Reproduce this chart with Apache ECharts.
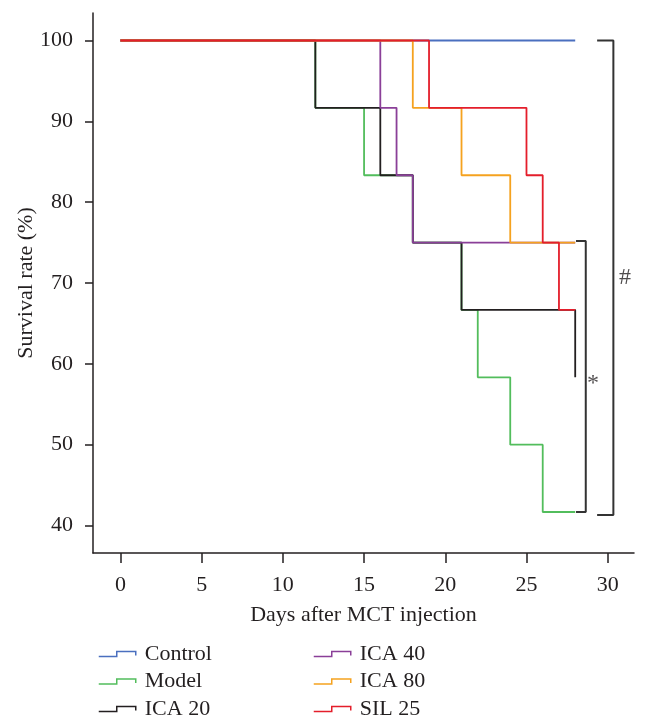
<!DOCTYPE html>
<html>
<head>
<meta charset="utf-8">
<script src="https://cdn.jsdelivr.net/npm/echarts@6/dist/echarts.min.js"></script>
<style>
html,body{margin:0;padding:0;background:#fff;}
#chart{width:648px;height:728px;}
</style>
</head>
<body>
<div id="chart"></div>
<script>
// ---- Data (days, survival rate %) ----
const seriesNames = ['Control', 'Model', 'ICA 20', 'ICA 40', 'ICA 80', 'SIL 25'];
const seriesColors = ['#4a6fbf', '#52bd5c', '#231f20', '#8a3f98', '#f5a21f', '#e41e2b'];

const controlDays = [0, 28];
const controlRate = [100, 100];
const modelDays = [0, 12, 15, 18, 21, 22, 24, 26, 28];
const modelRate = [100, 91.67, 83.33, 75, 66.67, 58.33, 50, 41.67, 41.67];
const ica20Days = [0, 12, 16, 18, 21, 28];
const ica20Rate = [100, 91.67, 83.33, 75, 66.67, 58.33];
const ica40Days = [0, 16, 17, 18, 28];
const ica40Rate = [100, 91.67, 83.33, 75, 75];
const ica80Days = [0, 18, 21, 24, 28];
const ica80Rate = [100, 91.67, 83.33, 75, 75];
const sil25Days = [0, 19, 25, 26, 27, 28];
const sil25Rate = [100, 91.67, 83.33, 75, 66.67, 66.67];

const xTicks = [0, 5, 10, 15, 20, 25, 30];
const yTicks = [40, 50, 60, 70, 80, 90, 100];

// significance brackets (data coordinates)
const bracketSymbols = ['*', '#'];
const bracketLeft = [28.05, 29.35];
const bracketRight = [28.65, 30.35];
const bracketTop = [75.2, 100];
const bracketBottom = [41.67, 41.3];
const bracketTextX = [29.1, 31.07];
const bracketTextY = [57.6, 70.7];

const allDays = [controlDays, modelDays, ica20Days, ica40Days, ica80Days, sil25Days];
const allRates = [controlRate, modelRate, ica20Rate, ica40Rate, ica80Rate, sil25Rate];

const FONT = '"Liberation Serif", "Times New Roman", serif';
const TEXT = '#231f20';
const FS = 22;

const kmSeries = seriesNames.map((name, i) => ({
  name: name,
  type: 'line',
  step: 'end',
  symbol: 'none',
  data: allDays[i].map((d, k) => [d, allRates[i][k]]),
  lineStyle: { color: seriesColors[i], width: 1.8 },
  itemStyle: { color: seriesColors[i] },
  z: 2 + i,
  animation: false
}));

const bracketSeries = bracketSymbols.map((s, i) => ({
  type: 'line',
  symbol: 'none',
  silent: true,
  data: [[bracketLeft[i], bracketTop[i]], [bracketRight[i], bracketTop[i]],
         [bracketRight[i], bracketBottom[i]], [bracketLeft[i], bracketBottom[i]]],
  lineStyle: { color: '#333333', width: 2 },
  z: 1,
  animation: false
}));

const textSeries = {
  type: 'scatter',
  symbolSize: 0,
  silent: true,
  data: bracketSymbols.map((s, i) => ({ name: s, value: [bracketTextX[i], bracketTextY[i]] })),
  label: {
    show: true, position: 'inside', formatter: p => p.name,
    fontFamily: FONT, fontSize: 24, color: TEXT
  },
  animation: false
};

const iconPath = 'path://M0,5 L18,5 L18,0 L37,0 L37,4';
function legendFor(idx, left) {
  return {
    orient: 'vertical',
    left: left,
    top: 638,
    itemWidth: 37,
    itemHeight: 5,
    itemGap: 5.5,
    icon: iconPath,
    selectedMode: false,
    textStyle: { fontFamily: FONT, fontSize: FS, color: TEXT, padding: [0, 0, 0, 4] },
    data: idx.map(i => ({
      name: seriesNames[i],
      icon: iconPath,
      itemStyle: { color: 'transparent', borderColor: seriesColors[i], borderWidth: 1.5 }
    }))
  };
}

const chart = echarts.init(document.getElementById('chart'), null, { renderer: 'canvas' });
chart.setOption({
  backgroundColor: '#ffffff',
  animation: false,
  grid: { left: 93, top: 13, width: 541, height: 540, containLabel: false },
  legend: [legendFor([0, 1, 2], 93), legendFor([3, 4, 5], 308)],
  xAxis: {
    type: 'value',
    min: -1.69, max: 31.62,
    name: 'Days after MCT injection',
    nameLocation: 'middle',
    nameGap: 51,
    nameMoveOverlap: false,
    nameTextStyle: { fontFamily: FONT, fontSize: FS, color: TEXT },
    axisLine: { show: true, onZero: false, lineStyle: { color: TEXT, width: 1.5 } },
    axisTick: { show: true, length: 10, lineStyle: { color: TEXT, width: 1.5 }, customValues: xTicks },
    axisLabel: { fontFamily: FONT, fontSize: FS, color: TEXT, margin: 21, customValues: xTicks },
    splitLine: { show: false }
  },
  yAxis: {
    type: 'value',
    min: 36.6, max: 103.4,
    name: 'Survival rate (%)',
    nameLocation: 'middle',
    nameGap: 56,
    nameMoveOverlap: false,
    nameTextStyle: { fontFamily: FONT, fontSize: FS, color: TEXT },
    axisLine: { show: true, onZero: false, lineStyle: { color: TEXT, width: 1.5 } },
    axisTick: { show: true, length: 8, lineStyle: { color: TEXT, width: 1.5 }, customValues: yTicks },
    axisLabel: { fontFamily: FONT, fontSize: FS, color: TEXT, margin: 20, customValues: yTicks },
    splitLine: { show: false }
  },
  series: [...bracketSeries, ...kmSeries, textSeries]
});
</script>
</body>
</html>
